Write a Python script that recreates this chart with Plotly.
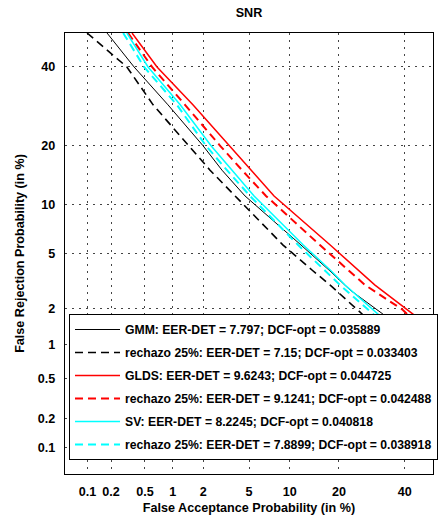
import plotly.graph_objects as go
from statistics import NormalDist

_nd = NormalDist()


def probit(p_pct):
    return _nd.inv_cdf(p_pct / 100.0)


# ---- data (percent) ----
tick_pct = [0.1, 0.2, 0.5, 1, 2, 5, 10, 20, 40]
tick_labels = ["0.1", "0.2", "0.5", "1", "2", "5", "10", "20", "40"]

gmm_fa = [0.178, 0.376, 0.89, 1.99, 2.96, 4.64, 11.9, 17.6, 22.9, 32.7, 36.4]
gmm_fr = [50, 40, 29.6, 20, 15.3, 11.2, 5.68, 3.85, 2.76, 1.80, 1.5]

gmm_rej_fa = [0.099, 0.31, 0.616, 1.43, 2.31, 3.84, 9.0, 13.96, 17.9, 26.3, 29.6]
gmm_rej_fr = [50, 40, 29.6, 20, 15.3, 11.2, 5.68, 3.85, 3.0, 1.80, 1.5]

glds_fa = [0.356, 0.68, 1.59, 3.41, 5.19, 7.76, 17.9, 25.1, 30.2, 42.9, 46.8]
glds_fr = [50, 40, 29.6, 20, 15.3, 11.2, 5.68, 3.85, 3.0, 1.80, 1.5]

glds_rej_fa = [0.32, 0.60, 1.33, 2.85, 4.39, 6.77, 15.6, 22.4, 27.2, 39.4, 40.8, 44.7]
glds_rej_fr = [50, 40, 29.6, 20, 15.3, 11.2, 5.68, 3.85, 3.0, 1.94, 1.80, 1.5]

sv_fa = [0.31, 0.542, 1.19, 2.36, 3.62, 5.48, 12.3, 17.9, 21.6, 31.1, 34.7]
sv_fr = [50, 40, 29.6, 20, 15.3, 11.2, 5.68, 3.85, 3.0, 1.80, 1.5]

sv_rej_fa = [0.28, 0.489, 1.10, 2.12, 3.27, 5.09, 11.4, 16.5, 20.3, 29.6, 33.1]
sv_rej_fr = [50, 40, 29.6, 20, 15.3, 11.2, 5.68, 3.85, 3.0, 1.80, 1.5]

series = [
    ("GMM: EER-DET = 7.797; DCF-opt = 0.035889", gmm_fa, gmm_fr, "black", "solid", 1.0),
    ("rechazo 25%: EER-DET = 7.15; DCF-opt = 0.033403", gmm_rej_fa, gmm_rej_fr, "black", "8px,5px", 1.6),
    ("GLDS: EER-DET = 9.6243; DCF-opt = 0.044725", glds_fa, glds_fr, "#ff0000", "solid", 1.5),
    ("rechazo 25%: EER-DET = 9.1241; DCF-opt = 0.042488", glds_rej_fa, glds_rej_fr, "#ff0000", "8px,5px", 2.0),
    ("SV: EER-DET = 8.2245; DCF-opt = 0.040818", sv_fa, sv_fr, "#00ffff", "solid", 1.5),
    ("rechazo 25%: EER-DET = 7.8899; DCF-opt = 0.038918", sv_rej_fa, sv_rej_fr, "#00ffff", "8px,5px", 2.0),
]

FONT = "Liberation Sans, Arial, Helvetica, sans-serif"

fig = go.Figure()
for i, (name, fa, fr, color, dash, width) in enumerate(series):
    fig.add_trace(go.Scatter(
        x=[probit(v) for v in fa],
        y=[probit(v) for v in fr],
        mode="lines",
        name=name,
        legendgroup=f"g{i}",
        line=dict(color=color, dash=dash, width=width),
    ))

rng = [probit(0.05), probit(50)]
tickvals = [probit(v) for v in tick_pct]

axis_common = dict(
    range=rng,
    tickvals=tickvals,
    ticktext=tick_labels,
    showgrid=True,
    gridcolor="#444444",
    griddash="2px,5px",
    gridwidth=1,
    zeroline=False,
    showline=True,
    linecolor="black",
    linewidth=1.2,
    mirror=True,
    ticks="outside",
    ticklen=6,
    tickcolor="rgba(0,0,0,0)",
    tickfont=dict(family=FONT, size=12.6, color="black", weight="bold"),
    automargin=False,
)

fig.update_layout(
    width=443,
    height=517,
    margin=dict(l=65, r=10, t=33, b=43, autoexpand=False),
    paper_bgcolor="white",
    plot_bgcolor="white",
    title=dict(
        text="SNR",
        x=0.5, xref="paper", xanchor="center",
        y=1 - 13 / 517, yref="container", yanchor="middle",
        font=dict(family=FONT, size=12.6, color="black", weight="bold"),
    ),
    xaxis=dict(
        axis_common,
        title=dict(text="False Acceptance Probability (in %)", standoff=4,
                   font=dict(family=FONT, size=12.6, color="black", weight="bold")),
    ),
    yaxis=dict(
        axis_common,
        title=dict(text="False Rejection Probability (in %)", standoff=10,
                   font=dict(family=FONT, size=12.6, color="black", weight="bold")),
    ),
    legend=dict(
        x=(69 - 65) / 368, xanchor="left",
        y=(474 - 314) / 441, yanchor="top",
        bgcolor="white",
        bordercolor="black",
        borderwidth=1,
        tracegroupgap=4,
        itemwidth=45,
        font=dict(family=FONT, size=12.2, color="black", weight="bold"),
    ),
    showlegend=True,
)

fig.write_html("out.html")
